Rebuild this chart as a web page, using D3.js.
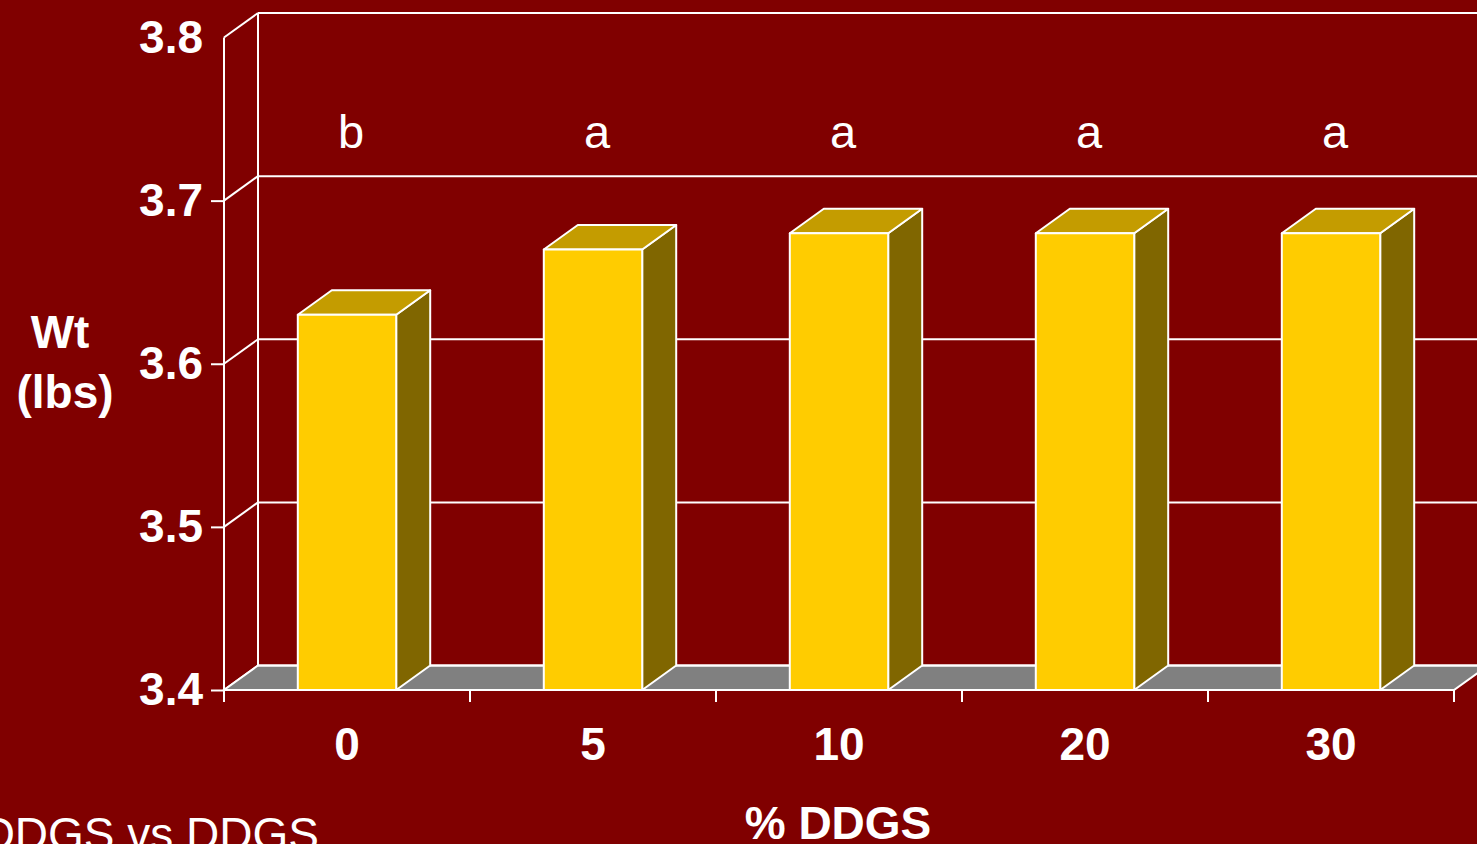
<!DOCTYPE html>
<html>
<head>
<meta charset="utf-8">
<script src="https://cdn.jsdelivr.net/npm/d3@7"></script>
<style>
  html, body { margin: 0; padding: 0; background: #800000; overflow: hidden; }
  svg { display: block; }
  text { font-family: "Liberation Sans", Arial, sans-serif; fill: #fff; }
</style>
</head>
<body>
<svg id="chart" width="1477" height="844"></svg>
<script>
// ---- data ----
const categories = ["0", "5", "10", "20", "30"];
const weights = [3.63, 3.67, 3.68, 3.68, 3.68];
const sigLetters = ["b", "a", "a", "a", "a"];
const yTicks = [3.4, 3.5, 3.6, 3.7, 3.8];
const yTickLabels = ["3.4", "3.5", "3.6", "3.7", "3.8"];
const xTitle = "% DDGS";
const yTitle = ["Wt", "(lbs)"];
const footnote = "DDGS vs DDGS";

// ---- layout ----
const W = 1477, H = 844;
const pLeft = 224, pRight = 1454, pBottom = 690, pTop = 37.5;
const dx = 34, dy = 24.5; // depth offset
const bg = "#800000";
const frontCol = "#FFCC00", topCol = "#C49C00", sideCol = "#806600", floorCol = "#808080";

const svg = d3.select("#chart");
svg.append("rect").attr("width", W).attr("height", H).attr("fill", bg);

const y = d3.scaleLinear().domain([3.4, 3.8]).range([pBottom, pTop]);
const xBand = d3.scaleBand().domain(categories).range([pLeft, pRight])
  .paddingInner(0.6).paddingOuter(0.3);
const xStep = d3.scaleBand().domain(categories).range([pLeft, pRight]).padding(0);

const sw = 2;

// back wall gridlines
const g = svg.append("g");
yTicks.forEach(t => {
  if (t > 3.4) {
    g.append("line")
      .attr("x1", pLeft + dx).attr("x2", W + 10)
      .attr("y1", y(t) - dy).attr("y2", y(t) - dy)
      .attr("stroke", "#fff").attr("stroke-width", sw);
  }
  g.append("line")
    .attr("x1", pLeft).attr("y1", y(t))
    .attr("x2", pLeft + dx).attr("y2", y(t) - dy)
    .attr("stroke", "#fff").attr("stroke-width", sw);
});
g.append("line")
  .attr("x1", pLeft + dx).attr("x2", pLeft + dx)
  .attr("y1", y(3.8) - dy).attr("y2", y(3.4) - dy)
  .attr("stroke", "#fff").attr("stroke-width", sw);

// floor
const floorPts = [[pLeft, pBottom], [pRight, pBottom], [pRight + dx, pBottom - dy], [pLeft + dx, pBottom - dy]];
g.append("polygon")
  .attr("points", floorPts.map(p => p.join(",")).join(" "))
  .attr("fill", floorCol).attr("stroke", "#fff").attr("stroke-width", sw);
g.append("line")
  .attr("x1", pLeft + dx).attr("x2", W + 10)
  .attr("y1", pBottom - dy).attr("y2", pBottom - dy)
  .attr("stroke", "#fff").attr("stroke-width", sw);

// bars
const bars = svg.append("g");
categories.forEach((c, i) => {
  const x0 = xBand(c), x1 = x0 + xBand.bandwidth();
  const yv = y(weights[i]);
  const gb = bars.append("g");
  const poly = (pts, fill) => gb.append("polygon")
    .attr("points", pts.map(p => p.join(",")).join(" "))
    .attr("fill", fill).attr("stroke", "#fff").attr("stroke-width", sw)
    .attr("stroke-linejoin", "round");
  poly([[x1, yv], [x1 + dx, yv - dy], [x1 + dx, pBottom - dy], [x1, pBottom]], sideCol);
  poly([[x0, yv], [x1, yv], [x1 + dx, yv - dy], [x0 + dx, yv - dy]], topCol);
  poly([[x0, yv], [x1, yv], [x1, pBottom], [x0, pBottom]], frontCol);
});

// significance letters
svg.append("g").selectAll("text").data(sigLetters).join("text")
  .attr("x", (d, i) => xStep(categories[i]) + xStep.bandwidth() / 2 + 4)
  .attr("y", y(3.7) - 53)
  .attr("text-anchor", "middle")
  .attr("font-size", 47)
  .text(d => d);

// front y axis line
svg.append("line")
  .attr("x1", pLeft).attr("x2", pLeft).attr("y1", pTop).attr("y2", pBottom + 12)
  .attr("stroke", "#fff").attr("stroke-width", sw);

// y axis ticks + labels
const yAxis = d3.axisLeft(y).tickValues(yTicks)
  .tickFormat((d, i) => yTickLabels[i]).tickSize(13).tickPadding(8);
const ya = svg.append("g").attr("transform", `translate(${pLeft},0)`).call(yAxis);
ya.select(".domain").remove();
ya.selectAll(".tick line").attr("stroke", "#fff").attr("stroke-width", sw)
  .attr("opacity", d => d === 3.8 ? 0 : 1);
ya.selectAll(".tick text").attr("fill", "#fff")
  .style("font-family", "'Liberation Sans', Arial, sans-serif")
  .style("font-size", "46px").style("font-weight", "bold");

// x axis ticks at category boundaries
const bounds = categories.map(c => xStep(c)).concat([pRight]);
svg.append("g").selectAll("line").data(bounds).join("line")
  .attr("x1", d => d).attr("x2", d => d)
  .attr("y1", pBottom).attr("y2", pBottom + 12)
  .attr("stroke", "#fff").attr("stroke-width", sw);

// x labels
svg.append("g").selectAll("text").data(categories).join("text")
  .attr("x", d => xStep(d) + xStep.bandwidth() / 2)
  .attr("y", pBottom + 70)
  .attr("text-anchor", "middle")
  .attr("font-size", 46).attr("font-weight", "bold")
  .text(d => d);

// x title
svg.append("text").attr("x", 838).attr("y", 839)
  .attr("text-anchor", "middle").attr("font-size", 46).attr("font-weight", "bold")
  .text(xTitle);

// y title
svg.append("text").attr("x", 60).attr("y", 348)
  .attr("text-anchor", "middle").attr("font-size", 46).attr("font-weight", "bold")
  .text(yTitle[0]);
svg.append("text").attr("x", 65).attr("y", 408)
  .attr("text-anchor", "middle").attr("font-size", 46).attr("font-weight", "bold")
  .text(yTitle[1]);

// footnote (cut off at left in the original)
svg.append("text").attr("x", 319).attr("y", 850)
  .attr("text-anchor", "end").attr("font-size", 46)
  .text(footnote);
</script>
</body>
</html>
